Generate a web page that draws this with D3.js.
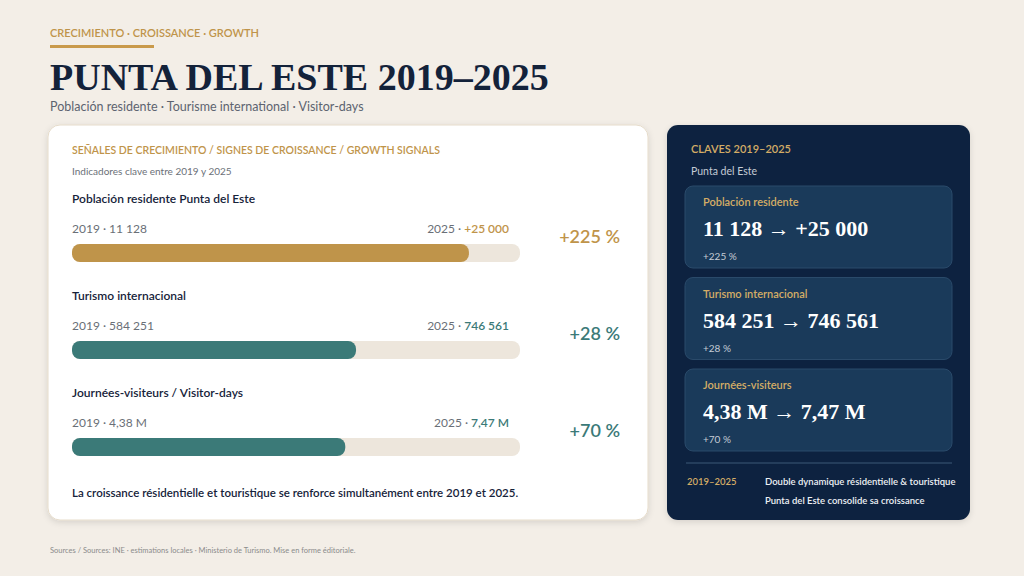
<!DOCTYPE html><html><head><meta charset="utf-8">
<script src="https://cdn.jsdelivr.net/npm/d3@7"></script>
<style>body{margin:0;background:#f3eee7;}svg{display:block}</style></head><body>
<svg id="c" width="1024" height="576"></svg>
<script>
const categories=["Población residente Punta del Este","Turismo internacional","Journées-visiteurs / Visitor-days"];
const shortNames=["Población residente","Turismo internacional","Journées-visiteurs"];
const v2019=["11 128","584 251","4,38 M"];
const v2025=["+25 000","746 561","7,47 M"];
const growth=[225,28,70];
const barFill=[0.886,0.634,0.61];
const colors=["#bf944a","#3b7a78","#3b7a78"];
const S="Lato, 'Noto Sans', sans-serif", SERIF="'Liberation Serif', 'DejaVu Serif', serif";
const svg=d3.select("#c");
const defs=svg.append("defs");
const f=defs.append("filter").attr("id","sh").attr("x","-10%").attr("y","-10%").attr("width","120%").attr("height","130%");
f.append("feDropShadow").attr("dx",0).attr("dy",2).attr("stdDeviation",3).attr("flood-color","#000").attr("flood-opacity",0.12);
const t=(x,y,s,o)=>svg.append("text").attr("x",x).attr("y",y).text(s).attr("font-family",o.ff||S).attr("font-size",o.fs).attr("font-weight",o.fw||400).attr("fill",o.c).attr("text-anchor",o.a||"start");
t(50,37,"CRECIMIENTO · CROISSANCE · GROWTH",{fs:11,fw:600,c:"#bf944a"});
svg.append("rect").attr("x",50).attr("y",45).attr("width",104).attr("height",3).attr("fill","#c99a4b");
t(50,90,"PUNTA DEL ESTE 2019–2025",{ff:SERIF,fs:38,fw:700,c:"#13223a"});
t(50,111,"Población residente · Tourisme international · Visitor-days",{fs:12.5,c:"#5d6470"});
svg.append("rect").attr("x",48).attr("y",125).attr("width",600).attr("height",395).attr("rx",12).attr("fill","#fff").attr("stroke","#e6dccb").attr("filter","url(#sh)");
t(72,154,"SEÑALES DE CRECIMIENTO / SIGNES DE CROISSANCE / GROWTH SIGNALS",{fs:10.5,fw:600,c:"#bf944a"});
t(72,175,"Indicadores clave entre 2019 y 2025",{fs:10,c:"#6b7078"});
const x=d3.scaleLinear().domain([0,1]).range([72,520]);
const y=d3.scaleLinear().domain([0,1]).range([203,300]);
categories.forEach((c,i)=>{
  const y0=y(i);
  t(72,y0,c,{fs:12,fw:600,c:"#16233a"});
  t(72,y0+30,"2019  ·  "+v2019[i],{fs:12,c:"#6a6f77"});
  const r=svg.append("text").attr("x",509).attr("y",y0+30).attr("text-anchor","end").attr("font-family",S).attr("font-size",12);
  r.append("tspan").text("2025  ·  ").attr("fill","#6a6f77");
  r.append("tspan").text(v2025[i]).attr("fill",colors[i]).attr("font-weight",600);
  svg.append("rect").attr("x",x(0)).attr("y",y0+41).attr("width",x(1)-x(0)).attr("height",18).attr("rx",8).attr("fill","#ede6dc");
  svg.append("rect").attr("x",x(0)).attr("y",y0+41).attr("width",x(barFill[i])-x(0)).attr("height",18).attr("rx",8).attr("fill",colors[i]);
  t(620,y0+40,"+"+growth[i]+" %",{fs:18,fw:600,c:colors[i],a:"end"});
});
t(72,497,"La croissance résidentielle et touristique se renforce simultanément entre 2019 et 2025.",{fs:11.5,fw:600,c:"#16233a"});
svg.append("rect").attr("x",667).attr("y",125).attr("width",303).attr("height",395).attr("rx",11).attr("fill","#0e2440").attr("filter","url(#sh)");
t(691,153,"CLAVES 2019–2025",{fs:11,fw:600,c:"#d4ad66"});
t(691,175,"Punta del Este",{fs:10.5,c:"#c5ccd6"});
shortNames.forEach((n,i)=>{
  const y0=186+i*91.5;
  svg.append("rect").attr("x",685).attr("y",y0).attr("width",267).attr("height",82).attr("rx",8).attr("fill","#1a3a5a").attr("stroke","#2a4a6a");
  t(703,y0+20,n,{fs:11,fw:600,c:"#d4ad66"});
  t(703,y0+50,v2019[i]+"  →  "+v2025[i],{ff:SERIF,fs:22,fw:700,c:"#fff"});
  t(703,y0+74,"+"+growth[i]+" %",{fs:10,c:"#c5ccd6"});
});
svg.append("line").attr("x1",686).attr("x2",952).attr("y1",463).attr("y2",463).attr("stroke","#3c5877");
t(687,485,"2019–2025",{fs:9.5,fw:600,c:"#d4ad66"});
t(765,485,"Double dynamique résidentielle & touristique",{fs:9.5,fw:600,c:"#eef1f5"});
t(765,504,"Punta del Este consolide sa croissance",{fs:9.5,fw:600,c:"#eef1f5"});
t(50,553,"Sources / Sources: INE · estimations locales · Ministerio de Turismo. Mise en forme éditoriale.",{fs:7.5,c:"#8b8b8b"});
</script></body></html>
